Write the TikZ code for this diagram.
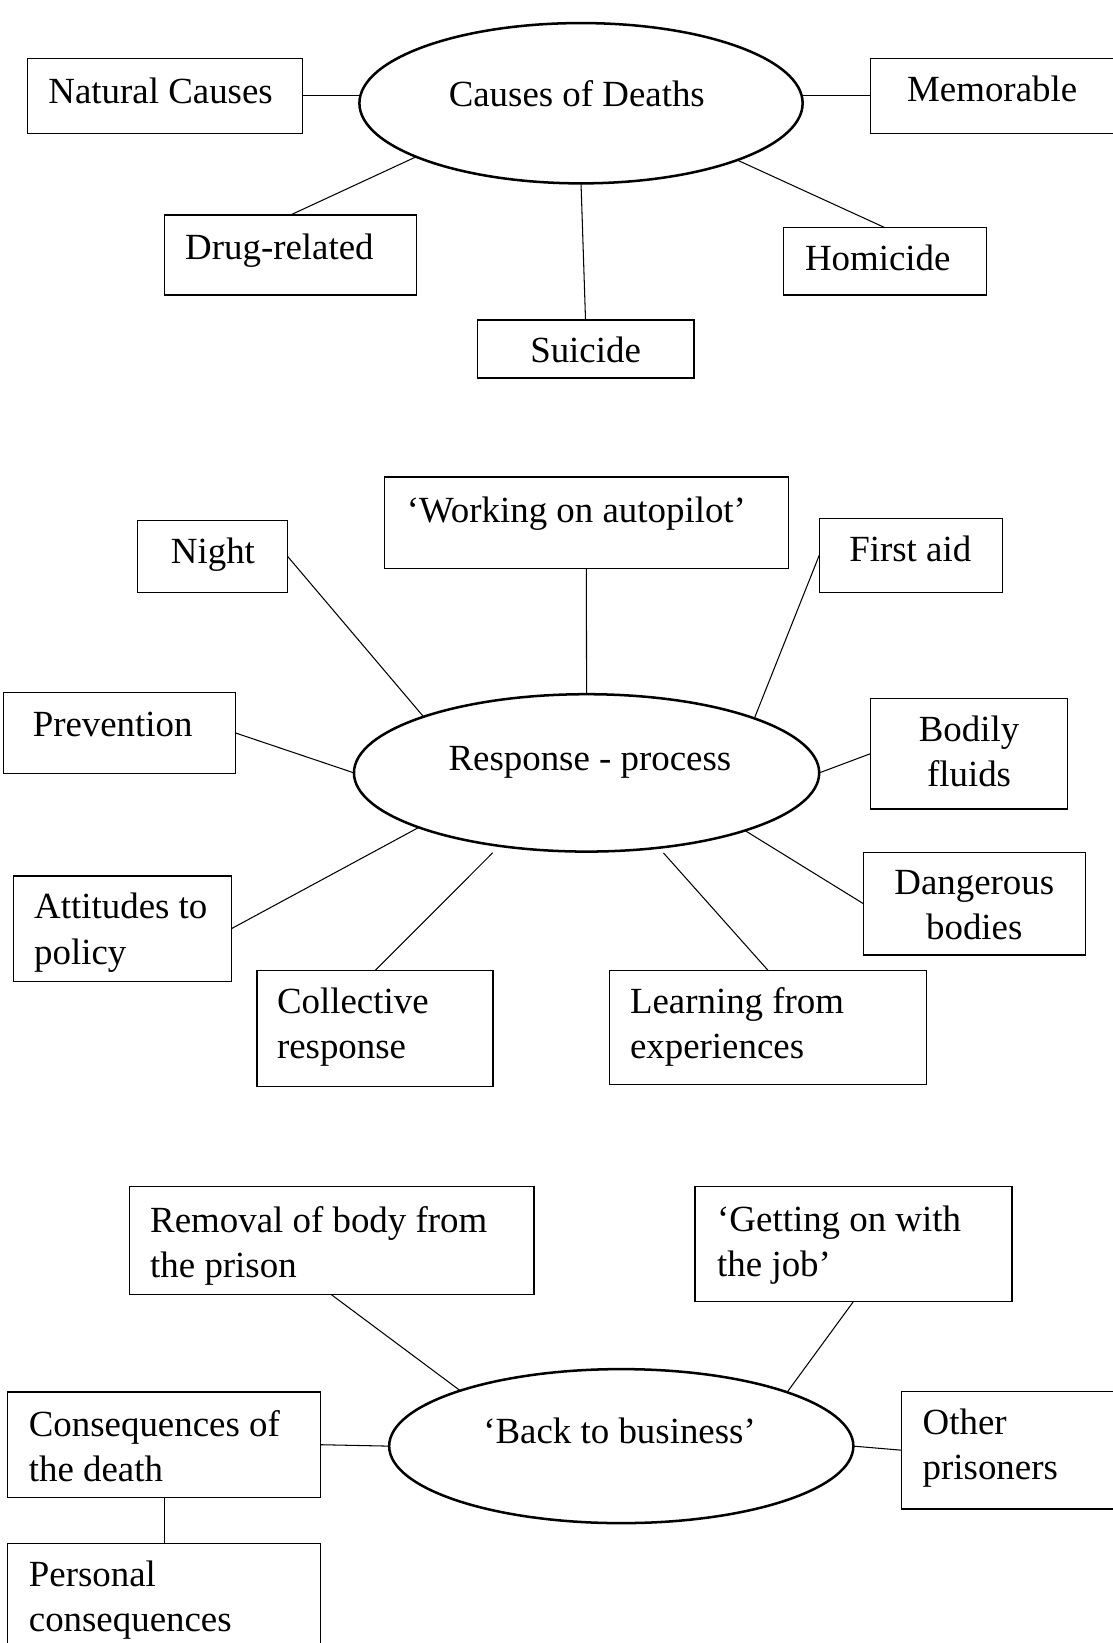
\documentclass[tikz,border=0pt]{standalone}
\usepackage{fontspec}
\setmainfont{Liberation Serif}
\usetikzlibrary{shapes.geometric,fit}

\begin{document}
\begin{tikzpicture}[
  x=0.75pt, y=-0.75pt,
  font=\fontsize{26.4}{32.25}\selectfont,
  box/.style={draw, line width=0.9pt, inner sep=0pt, outer sep=0pt},
  hub/.style={draw, ellipse, line width=1.8pt, inner sep=0pt, outer sep=0pt},
  txt/.style={inner sep=0pt, anchor=base west, align=left},
  ctxt/.style={inner sep=0pt, anchor=base, align=center},
  link/.style={line width=0.75pt}
]
\useasboundingbox (0,0) rectangle (1062,1568);
% (two-line labels are placed by the baseline of their last line)

% ---------- Causes of deaths ----------
\node[hub, minimum width=317.25pt, minimum height=114.75pt] (e1) at (554.5,98.5) {};
\node[txt] (e1t) at (428,101.8) {Causes of Deaths};

\node[box, fit={(26,55.6) (288.5,127.2)}] (nc) {};
\node[txt] (nct) at (46,98.6) {Natural Causes};
\node[box, fit={(830.6,55.7) (1075,127.2)}] (mem) {};
\node[txt] (memt) at (865.5,97) {Memorable};
\node[box, fit={(156.8,205.2) (397.6,281.5)}] (dr) {};
\node[txt] (drt) at (176.5,247.4) {Drug-related};
\node[box, fit={(748,217.3) (941.2,281.5)}] (ho) {};
\node[txt] (hot) at (768,258.3) {Homicide};
\node[box, fit={(455.4,305.3) (662.2,360.7)}] (su) {};
\node[txt] (sut) at (505.8,346) {Suicide};

\draw[link] (nc.east) -- (nc.east -| e1.west);
\draw[link] (mem.west) -- (mem.west -| e1.east);
\draw[link] (dr.north) -- (e1.198.9);
\draw[link] (su.north) -- (e1.south);
\draw[link] (ho.north) -- (e1.340.8);

% ---------- Response process ----------
\node[hub, minimum width=333pt, minimum height=112.65pt] (e2) at (559.8,737.6) {};
\node[txt] (e2t) at (427.8,735.5) {Response - process};

\node[box, fit={(366.7,455.2) (752.5,542.3)}] (wo) {};
\node[txt] (wot) at (388,498.7) {‘Working on autopilot’};
\node[box, fit={(131,496.5) (274.5,565.5)}] (ni) {};
\node[txt] (nit) at (162.9,537.5) {Night};
\node[box, fit={(781.8,494.6) (956.8,565.5)}] (fa) {};
\node[txt] (fat) at (810.3,536) {First aid};
\node[box, fit={(3,660.6) (224.5,738.2)}] (pr) {};
\node[txt] (prt) at (31,702.9) {Prevention};
\node[box, fit={(830.5,666.7) (1019,772)}] (bo) {};
\node[ctxt] (bot) at (924.8,750.6) {Bodily\\fluids};
\node[box, fit={(823.8,813.3) (1035.9,911.3)}] (da) {};
\node[ctxt] (dat) at (929.8,897) {Dangerous\\bodies};
\node[box, fit={(12.6,835.9) (220.8,936.7)}] (at) {};
\node[txt] (att) at (32.4,920) {Attitudes to\\policy};
\node[box, fit={(245.3,926.2) (470.6,1036.9)}] (co) {};
\node[txt] (cot) at (264.1,1009.8) {Collective\\response};
\node[box, fit={(581.8,926.2) (884.4,1035.3)}] (le) {};
\node[txt] (let) at (601,1009.8) {Learning from\\experiences};

\draw[link] (wo.south) -- (e2.north);
\draw[link] (ni.east) -- (e2.161.1);
\draw[link] (fa.west) -- (e2.18.9);
\draw[link] (pr.east) -- (e2.west);
\draw[link] (bo.west) -- (e2.east);
\draw[link] (da.west) -- (e2.340.6);
\draw[link] (at.east) -- (e2.198.8);
\draw[link, shorten >=7pt] (co.north) -- (e2.220.6);
\draw[link, shorten >=5pt] (le.north) -- (e2.314.8);

% ---------- Back to business ----------
\node[hub, minimum width=332.25pt, minimum height=110.25pt] (e3) at (592.9,1380.1) {};
\node[txt] (e3t) at (461,1377.2) {‘Back to business’};

\node[box, fit={(123.4,1132.3) (509.5,1235.7)}] (re) {};
\node[txt] (ret) at (143.1,1218.8) {Removal of body from\\the prison};
\node[box, fit={(663.3,1132.3) (965.8,1242)}] (ge) {};
\node[txt] (get) at (684.2,1218.3) {‘Getting on with\\the job’};
\node[box, fit={(7.5,1328.5) (305.7,1429)}] (cs) {};
\node[txt] (cst) at (27.3,1413.8) {Consequences of\\the death};
\node[box, fit={(860.1,1327.9) (1075,1440)}] (ot) {};
\node[txt] (ott) at (880.3,1412.3) {Other\\prisoners};
\node[box, fit={(7.5,1473.3) (305.7,1590)}] (pe) {};
\node[txt] (pet) at (27.3,1557) {Personal\\consequences};

\draw[link] (re.south) -- (e3.161.1);
\draw[link] (ge.south) -- (e3.18.8);
\draw[link] (cs.east) -- (e3.west);
\draw[link] (ot.west) -- (e3.east);
\draw[link] (cs.south) -- (pe.north);
\end{tikzpicture}
\end{document}
